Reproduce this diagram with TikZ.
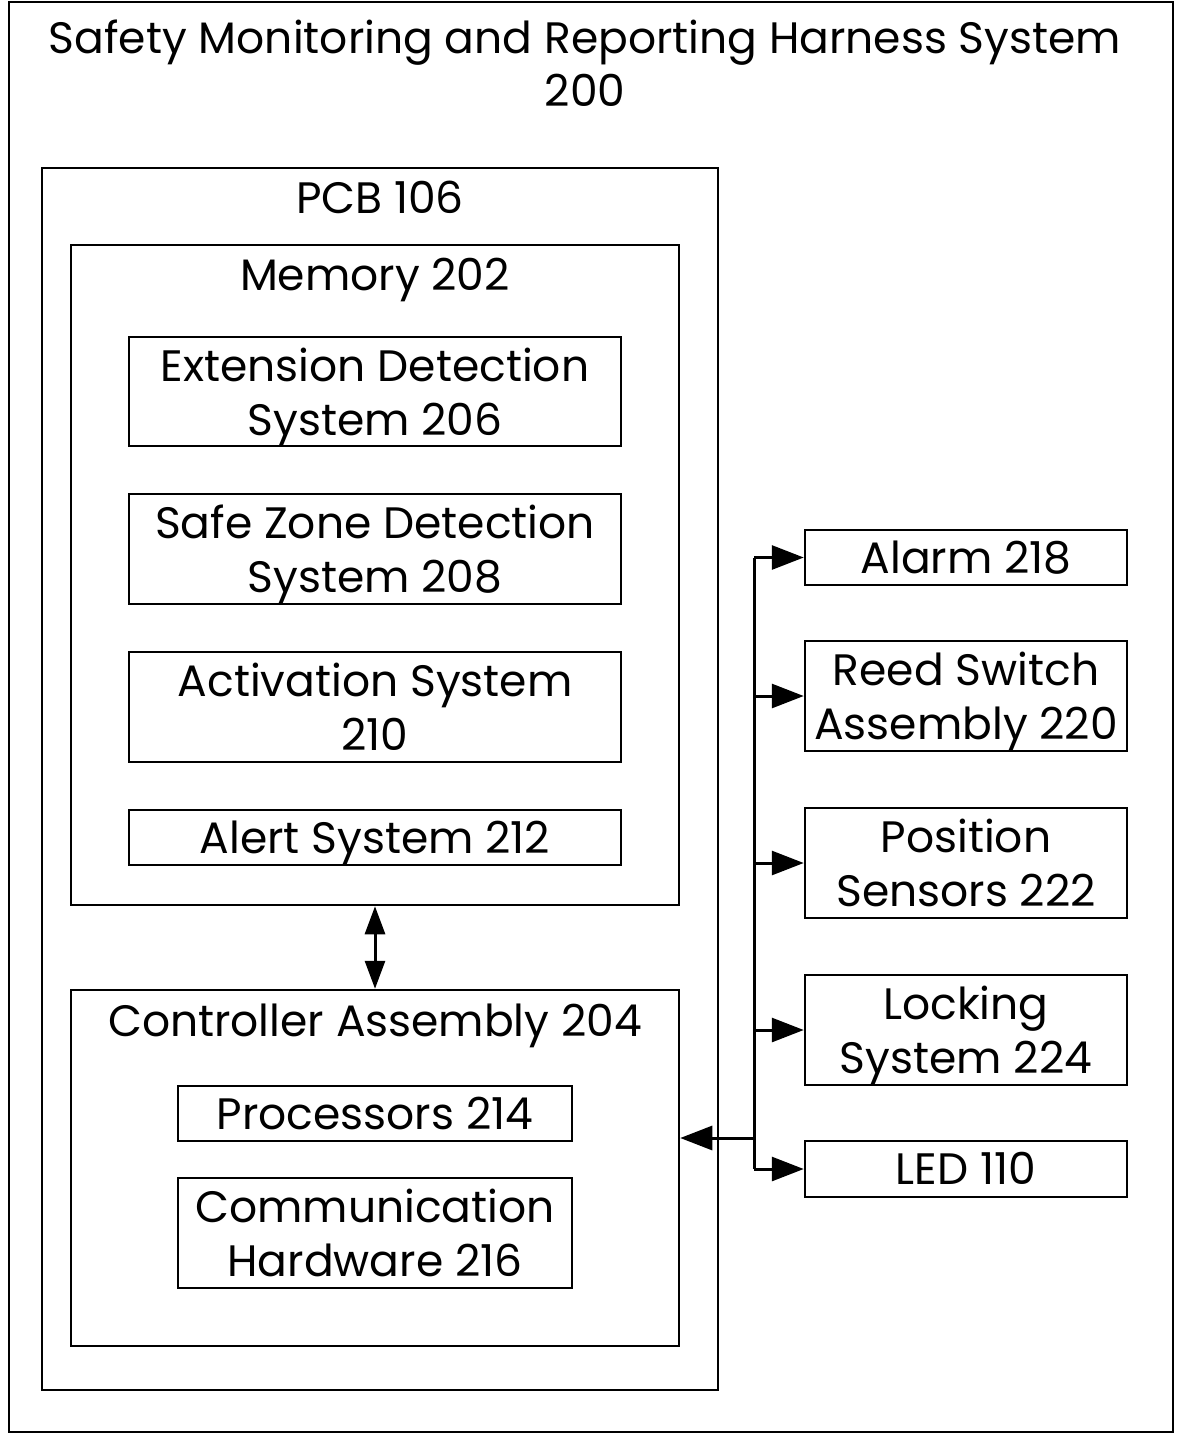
\documentclass[tikz,border=0pt]{standalone}
\usepackage{fontspec}
\setmainfont{Poppins}
\usetikzlibrary{arrows.meta}
% same descender depth on every last line
\newcommand{\dsc}{\vphantom{y}}
\begin{document}
\begin{tikzpicture}[x=1pt,y=-1pt,
  txt/.style={font=\fontsize{44}{54}\selectfont, align=center, inner sep=0pt, yshift=-5.5pt},
  box/.style={draw, line width=2.5pt, inner sep=0pt},
  frame/.style={draw, line width=2.5pt, inner sep=0pt},
  arr/.style={line width=3pt, -{Triangle[length=32pt,width=24pt]}},
  biarr/.style={line width=3pt, {Triangle[length=28pt,width=20pt]}-{Triangle[length=28pt,width=20pt]}}
]
\useasboundingbox (0,0) rectangle (1176,1433);
% outer frame and title
\node[frame, minimum width=1164pt, minimum height=1430pt] (sys) at (591,717) {};
\node[txt, font=\fontsize{44}{53}\selectfont] (title) at (585,63.5) {Safety Monitoring and Reporting Harness System\\200\dsc};

% PCB
\node[frame, minimum width=676pt, minimum height=1222pt] (pcb) at (380,779) {};
\node[txt] (pcbl) at (380,197) {PCB 106\dsc};

% memory and its systems
\node[frame, minimum width=608pt, minimum height=660pt] (mem) at (375,575) {};
\node[txt] (meml) at (375,274) {Memory 202\dsc};
\node[box, minimum width=492pt, minimum height=109pt] (ext) at (375,391.5) {};
\node[txt] (extt) at (ext) {Extension Detection\\System 206\dsc};
\node[box, minimum width=492pt, minimum height=110pt] (safe) at (375,549) {};
\node[txt] (safet) at (safe) {Safe Zone Detection\\System 208\dsc};
\node[box, minimum width=492pt, minimum height=110pt] (act) at (375,707) {};
\node[txt] (actt) at (act) {Activation System\\210\dsc};
\node[box, minimum width=492pt, minimum height=55pt] (alert) at (375,837.5) {};
\node[txt] (alertt) at (alert) {Alert System 212\dsc};

% controller assembly
\node[frame, minimum width=608pt, minimum height=356pt] (ctrl) at (375,1168) {};
\node[txt] (ctrll) at (375,1020) {Controller Assembly 204\dsc};
\node[box, minimum width=394pt, minimum height=55pt] (proc) at (375,1113.5) {};
\node[txt] (proct) at (proc) {Processors 214\dsc};
\node[box, minimum width=394pt, minimum height=110pt] (comm) at (375,1233) {};
\node[txt] (commt) at (comm) {Communication\\Hardware 216\dsc};

\draw[biarr] (mem.south) -- (ctrl.north);

% peripherals
\node[box, minimum width=322pt, minimum height=55pt] (alarm) at (966,557.5) {};
\node[txt] (alarmt) at (alarm) {Alarm 218\dsc};
\node[box, minimum width=322pt, minimum height=110pt] (reed) at (966,696) {};
\node[txt] (reedt) at (reed) {Reed Switch\\Assembly 220\dsc};
\node[box, minimum width=322pt, minimum height=110pt] (pos) at (966,863) {};
\node[txt] (post) at (pos) {Position\\Sensors 222\dsc};
\node[box, minimum width=322pt, minimum height=110pt] (lock) at (966,1030) {};
\node[txt] (lockt) at (lock) {Locking\\System 224\dsc};
\node[box, minimum width=322pt, minimum height=56pt] (led) at (966,1169) {};
\node[txt] (ledt) at (led) {LED 110\dsc};

% bus from the controller to the peripherals
\coordinate (hub) at (754,1138);
\draw[line width=3pt] (hub |- alarm.west) -- (hub |- led.west);
\draw[arr] (hub) -- (ctrl.east |- hub);
\foreach \n in {alarm,reed,pos,lock,led}
  \draw[arr] (hub |- \n.west) -- (\n.west);
\end{tikzpicture}
\end{document}
